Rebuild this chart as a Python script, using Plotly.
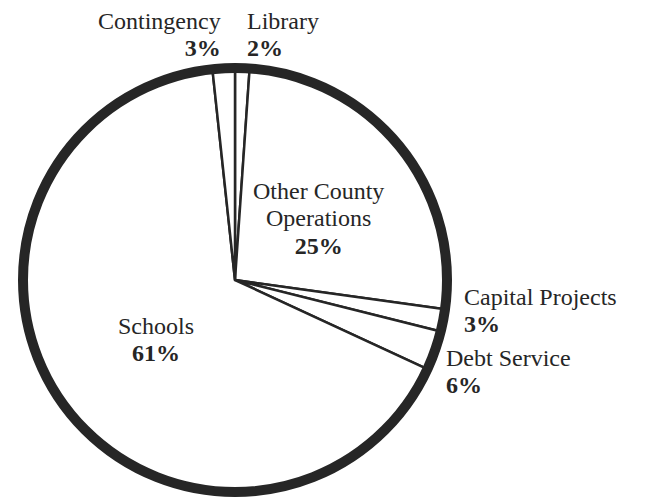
import plotly.graph_objects as go

# Categories (clockwise from 12 o'clock)
categories = ["Library", "Other County Operations", "Capital Projects",
              "Debt Service", "Schools", "Contingency"]
# Printed percentages on the chart
printed_pct = [2, 25, 3, 6, 61, 3]
# Slice sizes as drawn in the picture (share of the circle, %)
drawn_share = [1.1, 26.1, 1.7, 3.0, 66.4, 1.7]

W, H = 653, 498
INK = "#262626"
FONT = "Liberation Serif"
DOM = dict(x=[23 / W, 447 / W], y=[1 - 492 / H, 1 - 68 / H])

fig = go.Figure()
fig.add_trace(go.Pie(
    labels=categories, values=drawn_share, sort=False, direction="clockwise",
    rotation=0, textinfo="none", hoverinfo="label",
    marker=dict(colors=["white"] * len(categories), line=dict(color=INK, width=2.5)),
    domain=DOM, showlegend=False,
))
# thick outer ring
fig.add_trace(go.Pie(
    labels=["ring"], values=[1], textinfo="none", hoverinfo="skip",
    marker=dict(colors=["rgba(0,0,0,0)"], line=dict(color=INK, width=10)),
    domain=DOM, showlegend=False,
))

pct = {c: f"{p}%" for c, p in zip(categories, printed_pct)}
name_lines = {
    "Library": ["Library"],
    "Other County Operations": ["Other County", "Operations"],
    "Capital Projects": ["Capital Projects"],
    "Debt Service": ["Debt Service"],
    "Schools": ["Schools"],
    "Contingency": ["Contingency"],
}
# label block placement: (x_px, y_px centre, anchor)
placement = {
    "Contingency": (223, 35, "right"),
    "Library": (245, 35, "left"),
    "Other County Operations": (318, 218, "center"),
    "Capital Projects": (462, 310, "left"),
    "Debt Service": (444, 371, "left"),
    "Schools": (156, 339, "center"),
}
BIG = "font-size:24px"
for c in categories:
    xp, yp, a = placement[c]
    lines = [f'<span style="{BIG}">{ln}</span>' for ln in name_lines[c]]
    lines.append(f'<span style="{BIG}"><b>{pct[c]}</b></span>')
    fig.add_annotation(
        text="<br>".join(lines),
        x=xp / W, y=1 - yp / H, xref="paper", yref="paper",
        xanchor=a, yanchor="middle", align=a, showarrow=False,
        font=dict(family=FONT, size=21, color=INK),
    )

fig.update_layout(
    width=W, height=H, margin=dict(l=0, r=0, t=0, b=0),
    paper_bgcolor="white", plot_bgcolor="white",
)
fig.write_html("out.html")
